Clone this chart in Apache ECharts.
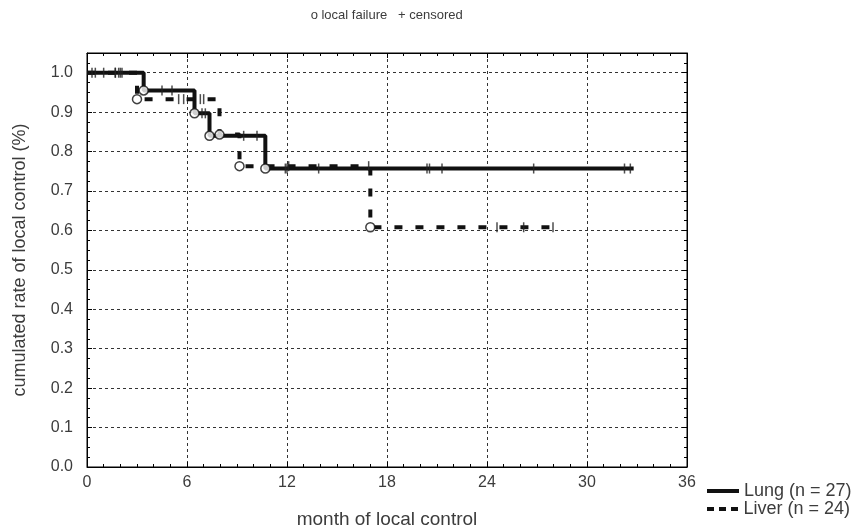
<!DOCTYPE html>
<html><head><meta charset="utf-8">
<script src="https://cdn.jsdelivr.net/npm/echarts@6/dist/echarts.min.js"></script>
<style>html,body{margin:0;padding:0;background:#fff}#c{width:861px;height:526px}</style>
</head><body><div id="c"></div>
<script>
// ---- data ----
const xTickLabels = [0, 6, 12, 18, 24, 30, 36];
const yTickLabels = [0.0, 0.1, 0.2, 0.3, 0.4, 0.5, 0.6, 0.7, 0.8, 0.9, 1.0];

const lungName = 'Lung (n = 27)';
const lungFailTimes = [3.4, 6.45, 7.35, 10.7];
const lungFailSurv  = [0.955, 0.897, 0.84, 0.757];
const lungEnd = 32.8;
const lungCensored = [0.3, 1.0, 1.7, 1.9, 2.1, 4.5, 5.1, 6.9, 7.1, 9.4, 10.2, 11.9, 12.0, 13.9, 20.4, 20.55, 21.3, 26.8, 32.25, 32.6];

const liverName = 'Liver (n = 24)';
const liverFailTimes = [3.0, 7.95, 9.15, 17.0];
const liverFailSurv  = [0.933, 0.843, 0.763, 0.608];
const liverEnd = 28.2;
const liverCensored = [0.5, 1.7, 2.0, 5.5, 5.8, 6.8, 7.0, 12.1, 16.9, 24.6, 26.2, 27.96];

const titleText = 'o local failure   + censored';
const xName = 'month of local control';
const yName = 'cumulated rate of local control (%)';

// ---- helpers ----
function kmLine(times, surv, end) {
  const d = [[0, 1]];
  times.forEach((t, i) => d.push([t, surv[i]]));
  d.push([end, surv[surv.length - 1]]);
  return d;
}
function survAt(times, surv, t) {
  let s = 1;
  times.forEach((tt, i) => { if (tt <= t) s = surv[i]; });
  return s;
}
const FONT = 'Liberation Sans';
const TXT = '#3c3c3c';

const chart = echarts.init(document.getElementById('c'), null, {renderer: 'canvas'});

const baseX = {
  type: 'value', min: xTickLabels[0], max: xTickLabels[xTickLabels.length - 1], interval: 6,
  axisLine: {show: true, onZero: false, lineStyle: {color: '#000', width: 1}},
  axisTick: {show: true, inside: true, length: 5, lineStyle: {color: '#000'}},
  minorTick: {show: true, splitNumber: 6, length: 3, lineStyle: {color: '#000'}},
  splitLine: {show: false}
};
const baseY = {
  type: 'value', min: 0, max: 1.05, interval: 0.1,
  axisLine: {show: true, onZero: false, lineStyle: {color: '#000', width: 1}},
  axisTick: {show: true, inside: true, length: 5, lineStyle: {color: '#000'}},
  minorTick: {show: true, splitNumber: 4, length: 3, lineStyle: {color: '#000'}},
  splitLine: {show: false}
};
const yLabelFmt = v => {
  const r = Math.round(v * 10) / 10;
  return (Math.abs(r - v) < 1e-6 && yTickLabels.some(t => Math.abs(t - r) < 1e-6)) ? r.toFixed(1) : '';
};
const legendText = {fontFamily: FONT, fontSize: 18, color: TXT};

const option = {
  backgroundColor: '#fff',
  animation: false,
  title: {
    text: titleText, left: 386.7, top: 9, padding: 0, textAlign: 'center',
    textStyle: {fontFamily: FONT, fontSize: 13, fontWeight: 'normal', color: TXT}
  },
  grid: {left: 87, right: 174, top: 53, bottom: 59, show: true, borderColor: '#000', borderWidth: 1, outerBoundsMode: 'none', containLabel: false},
  legend: [
    {
      left: 707, top: 482, padding: 0, itemWidth: 32, itemHeight: 4, selectedMode: false,
      textStyle: legendText,
      data: [{name: lungName, icon: 'rect'}]
    },
    {
      left: 707, top: 500, padding: 0, itemWidth: 32, itemHeight: 4, selectedMode: false,
      textStyle: legendText,
      data: [{name: liverName, icon: 'path://M0,0h7v4h-7z M12,0h7v4h-7z M24,0h7v4h-7z'}]
    }
  ],
  xAxis: [
    Object.assign({}, baseX, {
      position: 'bottom',
      name: xName, nameLocation: 'middle', nameGap: 43,
      nameTextStyle: {fontFamily: FONT, fontSize: 19, color: TXT},
      axisLabel: {fontFamily: FONT, fontSize: 16, color: TXT, margin: 8},
      splitLine: {show: true, lineStyle: {color: '#333', type: [3, 3], width: 1}}
    }),
    Object.assign({}, baseX, {position: 'top', axisLabel: {show: false}})
  ],
  yAxis: [
    Object.assign({}, baseY, {
      position: 'left',
      name: yName, nameLocation: 'middle', nameGap: 58, nameRotate: 90,
      nameTextStyle: {fontFamily: FONT, fontSize: 18, color: TXT},
      axisLabel: {fontFamily: FONT, fontSize: 16, color: TXT, margin: 14, formatter: yLabelFmt},
      splitLine: {show: true, lineStyle: {color: '#333', type: [3, 3], width: 1}}
    }),
    Object.assign({}, baseY, {position: 'right', axisLabel: {show: false}})
  ],
  series: [
    {
      name: lungName, type: 'line', step: 'end', symbol: 'none', z: 3,
      data: kmLine(lungFailTimes, lungFailSurv, lungEnd),
      lineStyle: {color: '#111', width: 4, type: 'solid'}, itemStyle: {color: '#111'}
    },
    {
      name: liverName, type: 'line', step: 'end', symbol: 'none', z: 3,
      data: kmLine(liverFailTimes, liverFailSurv, liverEnd),
      lineStyle: {color: '#111', width: 4, type: [8, 13]}, itemStyle: {color: '#111'}
    },
    {
      name: 'lung censored', type: 'scatter', symbol: 'rect', symbolSize: [1.5, 10], z: 4,
      itemStyle: {color: '#222'},
      data: lungCensored.map(t => [t, survAt(lungFailTimes, lungFailSurv, t)])
    },
    {
      name: 'liver censored', type: 'scatter', symbol: 'rect', symbolSize: [1.5, 10], z: 4,
      itemStyle: {color: '#222'},
      data: liverCensored.map(t => [t, survAt(liverFailTimes, liverFailSurv, t)])
    },
    {
      name: 'lung failure', type: 'scatter', symbol: 'circle', symbolSize: 9, z: 5,
      itemStyle: {color: '#fff', borderColor: '#111', borderWidth: 1.5},
      data: lungFailTimes.map((t, i) => [t, lungFailSurv[i]])
    },
    {
      name: 'liver failure', type: 'scatter', symbol: 'circle', symbolSize: 9, z: 5,
      itemStyle: {color: '#fff', borderColor: '#111', borderWidth: 1.5},
      data: liverFailTimes.map((t, i) => [t, liverFailSurv[i]])
    }
  ]
};
chart.setOption(option);
</script>
</body></html>
